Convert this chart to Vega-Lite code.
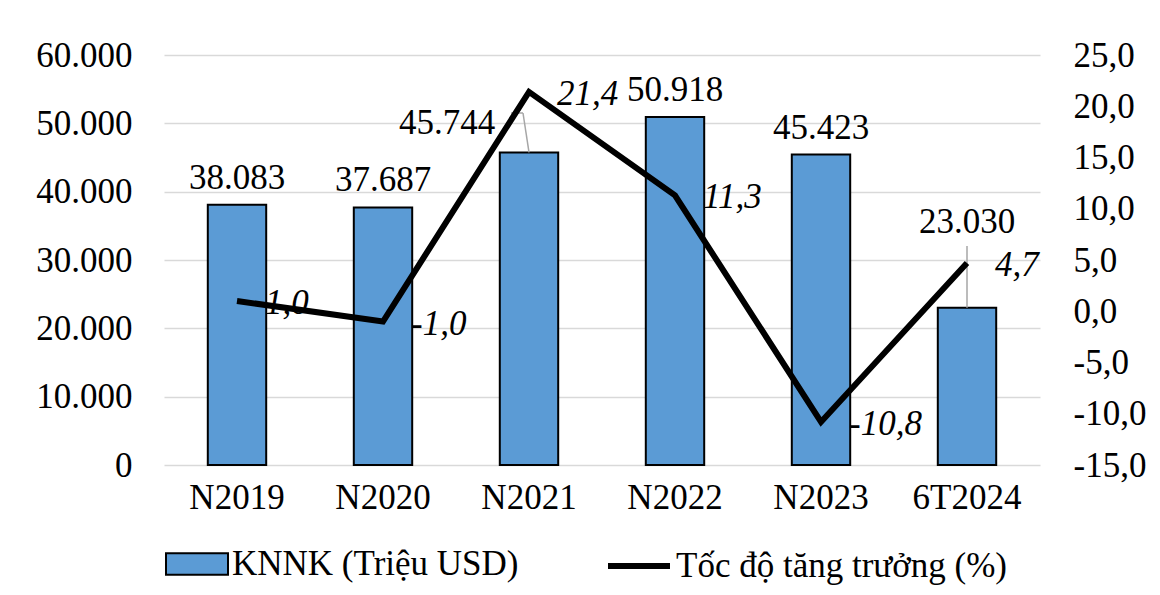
{
  "$schema": "https://vega.github.io/schema/vega-lite/v6.json",
  "width": 876,
  "height": 410,
  "autosize": {"type": "none"},
  "padding": {"left": 164, "top": 55, "right": 120, "bottom": 130},
  "background": "white",
  "config": {
    "locale": {"number": {"decimal": ",", "thousands": ".", "grouping": [3], "currency": ["", ""], "minus": "-"}},
    "font": "Liberation Serif",
    "view": {"stroke": null},
    "axis": {"labelFont": "Liberation Serif", "labelColor": "black", "labelFontSize": 35, "domain": false, "ticks": false, "title": null, "gridColor": "#D9D9D9", "gridWidth": 1.5},
    "legend": {"labelFont": "Liberation Serif", "labelFontSize": 35, "labelColor": "black", "padding": 0, "title": null, "labelOffset": 3, "labelLimit": 0}
  },
  "data": {"values": [
    {"cat": "N2019", "knnk": 38083, "growth": 1.0},
    {"cat": "N2020", "knnk": 37687, "growth": -1.0},
    {"cat": "N2021", "knnk": 45744, "growth": 21.4},
    {"cat": "N2022", "knnk": 50918, "growth": 11.3},
    {"cat": "N2023", "knnk": 45423, "growth": -10.8},
    {"cat": "6T2024", "knnk": 23030, "growth": 4.7}
  ]},
  "encoding": {
    "x": {"field": "cat", "type": "nominal", "sort": null,
      "scale": {"paddingInner": 0.6, "paddingOuter": 0.3},
      "axis": {"labelAngle": 0, "labelPadding": 15, "grid": false}}
  },
  "layer": [
    {
      "encoding": {
        "y": {"field": "knnk", "type": "quantitative", "scale": {"domain": [0, 60000]},
          "axis": {"orient": "left", "values": [0, 10000, 20000, 30000, 40000, 50000, 60000], "format": ",.0f", "labelPadding": 32, "grid": true}}
      },
      "layer": [
        {
          "mark": {"type": "bar", "stroke": "black", "strokeWidth": 2},
          "encoding": {
            "fill": {"datum": "KNNK (Triệu USD)", "scale": {"range": ["#5B9BD5"]},
              "legend": {"orient": "none", "legendX": 1, "legendY": 477, "symbolType": "M-1,-0.35H1V0.35H-1Z", "symbolSize": 3844, "symbolStrokeColor": "black", "symbolStrokeWidth": 2, "symbolOpacity": 1}}
          }
        },
        {
          "transform": [{"filter": "datum.cat != 'N2021' && datum.cat != '6T2024'"}],
          "mark": {"type": "text", "fontSize": 35, "font": "Liberation Serif", "color": "black", "baseline": "alphabetic", "dy": -16},
          "encoding": {"text": {"field": "knnk", "type": "quantitative", "format": ",.0f"}}
        },
        {
          "transform": [{"filter": "datum.cat == 'N2021'"}],
          "mark": {"type": "text", "fontSize": 35, "font": "Liberation Serif", "color": "black", "baseline": "alphabetic", "dy": -18, "dx": -82},
          "encoding": {"text": {"field": "knnk", "type": "quantitative", "format": ",.0f"}}
        },
        {
          "transform": [{"filter": "datum.cat == '6T2024'"}],
          "mark": {"type": "text", "fontSize": 35, "font": "Liberation Serif", "color": "black", "baseline": "alphabetic", "dy": -75},
          "encoding": {"text": {"field": "knnk", "type": "quantitative", "format": ",.0f"}}
        },
        {
          "transform": [{"filter": "datum.cat == 'N2021'"}],
          "mark": {"type": "rule", "color": "#A6A6A6", "strokeWidth": 1.5, "x2Offset": -6},
          "encoding": {"x2": {"field": "cat"}, "y2": {"datum": 51512}}
        },
        {
          "transform": [{"filter": "datum.cat == 'N2021'"}],
          "mark": {"type": "rule", "color": "#A6A6A6", "strokeWidth": 1.5, "xOffset": -18, "x2Offset": -6},
          "encoding": {"x2": {"field": "cat"}, "y": {"datum": 51512}}
        },
        {
          "transform": [{"filter": "datum.cat == '6T2024'"}],
          "mark": {"type": "rule", "color": "#A6A6A6", "strokeWidth": 1.5},
          "encoding": {"y2": {"datum": 32049}}
        }
      ]
    },
    {
      "encoding": {
        "y": {"field": "growth", "type": "quantitative", "scale": {"domain": [-15, 25]},
          "axis": {"orient": "right", "values": [-15, -10, -5, 0, 5, 10, 15, 20, 25], "format": ".1f", "labelPadding": 33, "grid": false}}
      },
      "layer": [
        {
          "mark": {"type": "line", "strokeWidth": 6, "strokeJoin": "miter"},
          "encoding": {
            "stroke": {"datum": "Tốc độ tăng trưởng (%)", "scale": {"range": ["black"]},
              "legend": {"orient": "none", "legendX": 441, "legendY": 477, "symbolType": "stroke", "symbolSize": 3844, "symbolStrokeWidth": 6}}
          }
        },
        {
          "mark": {"type": "text", "fontSize": 35, "font": "Liberation Serif", "fontStyle": "italic", "color": "black", "align": "left", "baseline": "middle", "dx": 28, "dy": 2},
          "encoding": {"text": {"field": "growth", "type": "quantitative", "format": ".1f"}}
        }
      ]
    }
  ],
  "resolve": {"scale": {"y": "independent"}}
}
